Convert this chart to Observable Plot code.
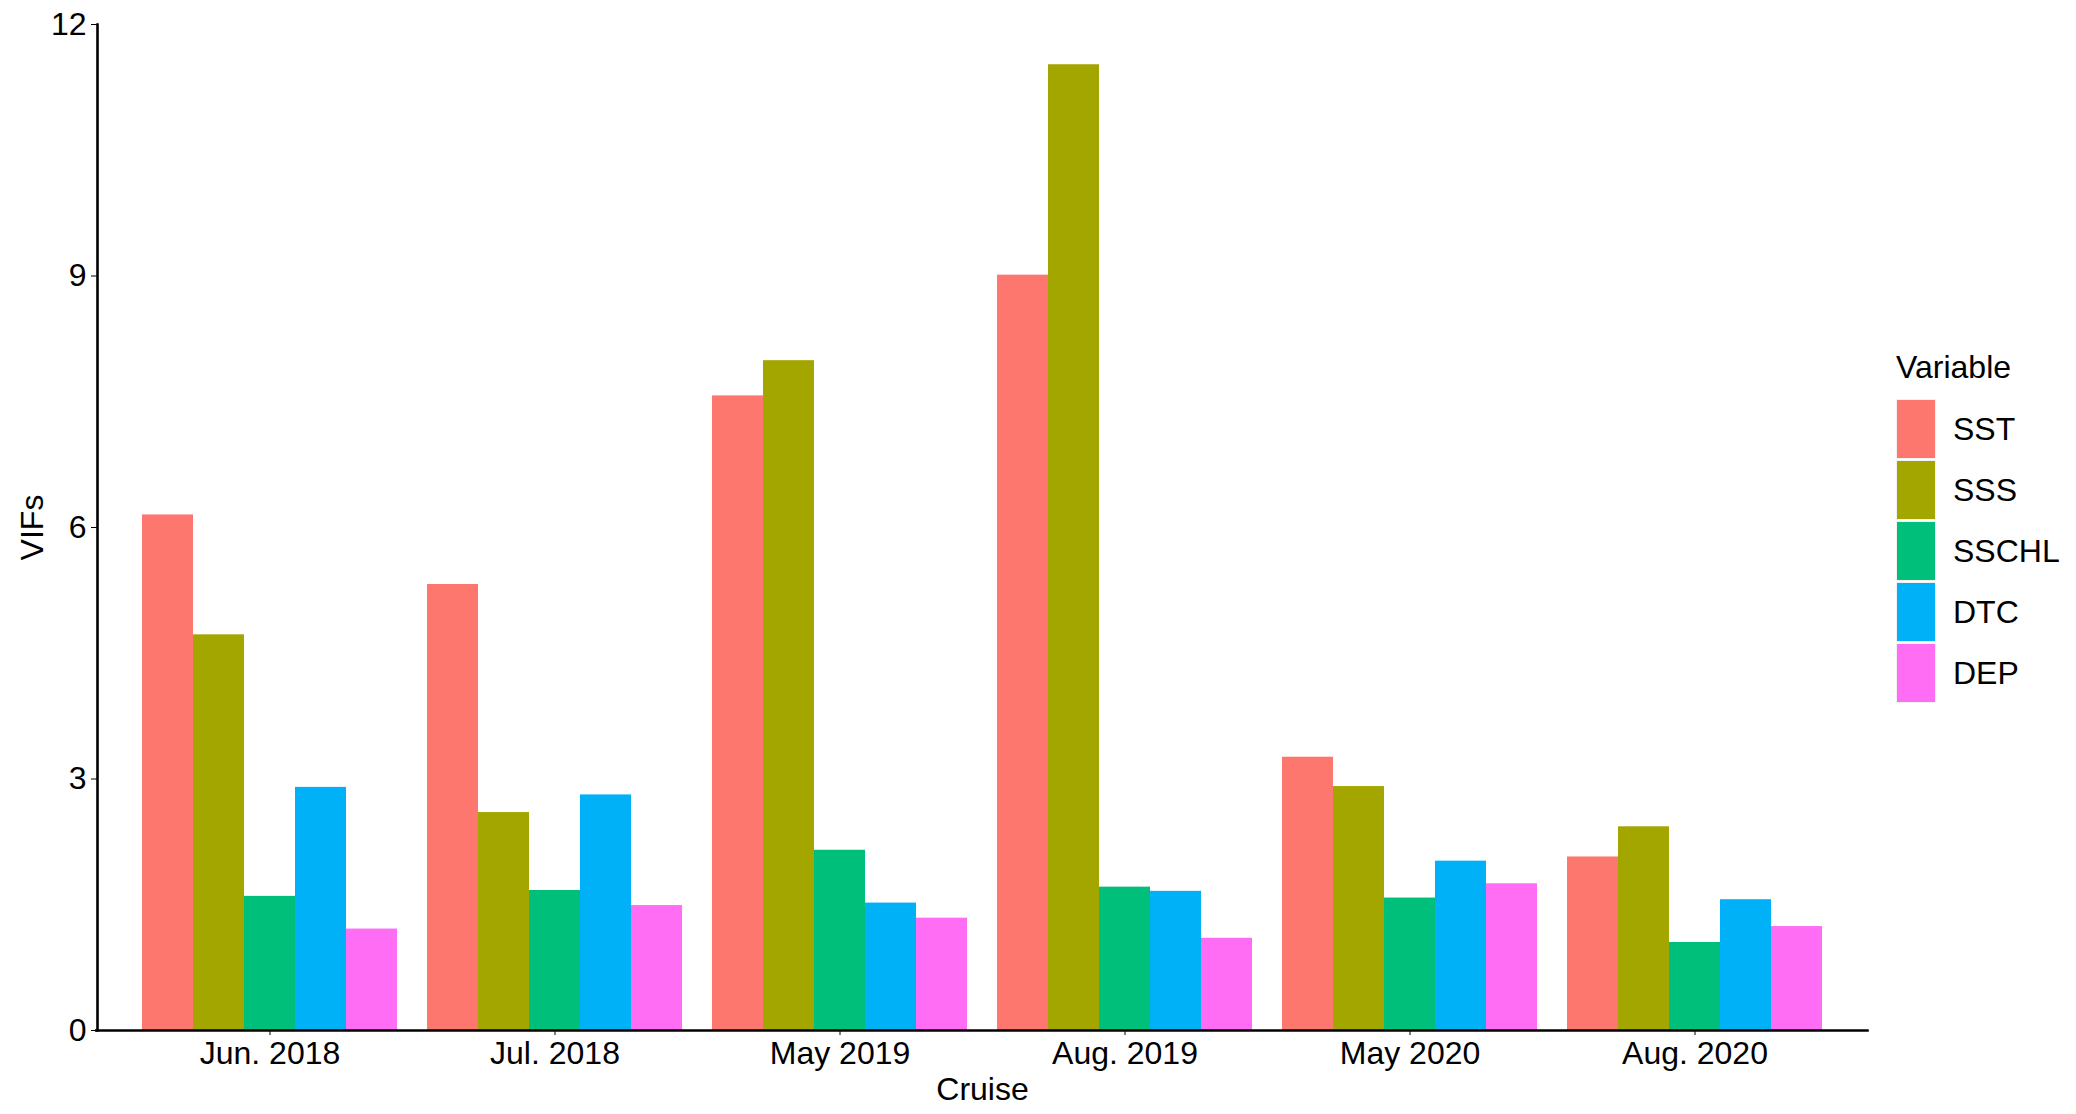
<!DOCTYPE html>
<html>
<head>
<meta charset="utf-8">
<script src="https://cdn.jsdelivr.net/npm/d3@7"></script>
<script src="https://cdn.jsdelivr.net/npm/@observablehq/plot@0.6"></script>
<style>
  html, body { margin: 0; padding: 0; background: #ffffff; }
  #wrap { position: relative; width: 2076px; height: 1114px; font-family: "Liberation Sans", Arial, sans-serif; color: #000; }
  #legend { position: absolute; left: 1896px; top: 351px; }
  #legend .title { font-size: 32px; line-height: 32px; height: 47px; }
  #legend .row { display: flex; align-items: center; height: 61px; }
  #legend .key { width: 38px; height: 58px; margin-left: 1px; box-shadow: 0 0 0 1px #f2f2f2; }
  #legend .lab { font-size: 32px; line-height: 32px; margin-left: 18px; }
</style>
</head>
<body>
<div id="wrap"></div>
<script>
const cruises = ["Jun. 2018", "Jul. 2018", "May 2019", "Aug. 2019", "May 2020", "Aug. 2020"];
const variables = ["SST", "SSS", "SSCHL", "DTC", "DEP"];
const SST   = [6.15, 5.32, 7.57, 9.01, 3.26, 2.07];
const SSS   = [4.72, 2.60, 7.99, 11.52, 2.91, 2.43];
const SSCHL = [1.60, 1.67, 2.15, 1.71, 1.58, 1.05];
const DTC   = [2.90, 2.81, 1.52, 1.66, 2.02, 1.56];
const DEP   = [1.21, 1.49, 1.34, 1.10, 1.75, 1.24];
const colors = ["#FE776E", "#A4A600", "#00BF7B", "#00B1F8", "#FF6DF5"];
const yTicks = [0, 3, 6, 9, 12];
const xTitle = "Cruise";
const yTitle = "VIFs";
const legendTitle = "Variable";

const series = {SST, SSS, SSCHL, DTC, DEP};
const data = cruises.flatMap((c, i) => variables.map(v => ({cruise: c, variable: v, value: series[v][i]})));

const marginLeft = 97;

function build(shift) {
  return Plot.plot({
    width: 2076,
    height: 1114,
    marginLeft,
    marginRight: 209,
    marginTop: 24,
    marginBottom: 84,
    style: {fontFamily: "'Liberation Sans', Arial, sans-serif", fontSize: "32px", color: "#000", background: "#fff", overflow: "visible"},
    fx: {domain: cruises, paddingInner: 0.1, paddingOuter: 0.15, label: null},
    x: {domain: variables, padding: 0, axis: null},
    y: {domain: [0, 12], label: null},
    color: {domain: variables, range: colors},
    marks: [
      Plot.barY(data, {fx: "cruise", x: "variable", y: "value", fill: "variable", inset: 0}),
      Plot.axisFx({anchor: "bottom", tickSize: 5, tickPadding: 6, fontSize: 32, label: null}),
      Plot.axisY({ticks: yTicks, tickSize: 6, tickPadding: 5, fontSize: 32, label: null, dx: -shift}),
      Plot.frame({anchor: "bottom", facet: "super", stroke: "#000", strokeWidth: 2.6, insetLeft: -shift - 1.3, insetRight: -shift}),
      Plot.frame({anchor: "left", facet: "super", stroke: "#000", strokeWidth: 2.6, dx: -shift}),
      Plot.text([xTitle], {text: d => d, frameAnchor: "bottom", dy: 69, lineAnchor: "bottom", fontSize: 32, facet: "super"}),
      Plot.text([yTitle], {text: d => d, frameAnchor: "left", dx: -55 - shift, rotate: -90, textAnchor: "middle", lineAnchor: "bottom", fontSize: 32, facet: "super"})
    ]
  });
}

// first pass: find where the first facet band starts, so axes sit on the frame edge
const probe = build(0);
const shift = probe.scale("fx").apply(cruises[0]) - marginLeft;
const chart = build(shift);

const wrap = document.getElementById("wrap");
wrap.appendChild(chart);

const color = chart.scale("color");
const legend = document.createElement("div");
legend.id = "legend";
const t = document.createElement("div");
t.className = "title";
t.textContent = legendTitle;
legend.appendChild(t);
for (const v of color.domain) {
  const row = document.createElement("div");
  row.className = "row";
  const key = document.createElement("div");
  key.className = "key";
  key.style.background = color.apply(v);
  const lab = document.createElement("div");
  lab.className = "lab";
  lab.textContent = v;
  row.appendChild(key);
  row.appendChild(lab);
  legend.appendChild(row);
}
wrap.appendChild(legend);
</script>
</body>
</html>
